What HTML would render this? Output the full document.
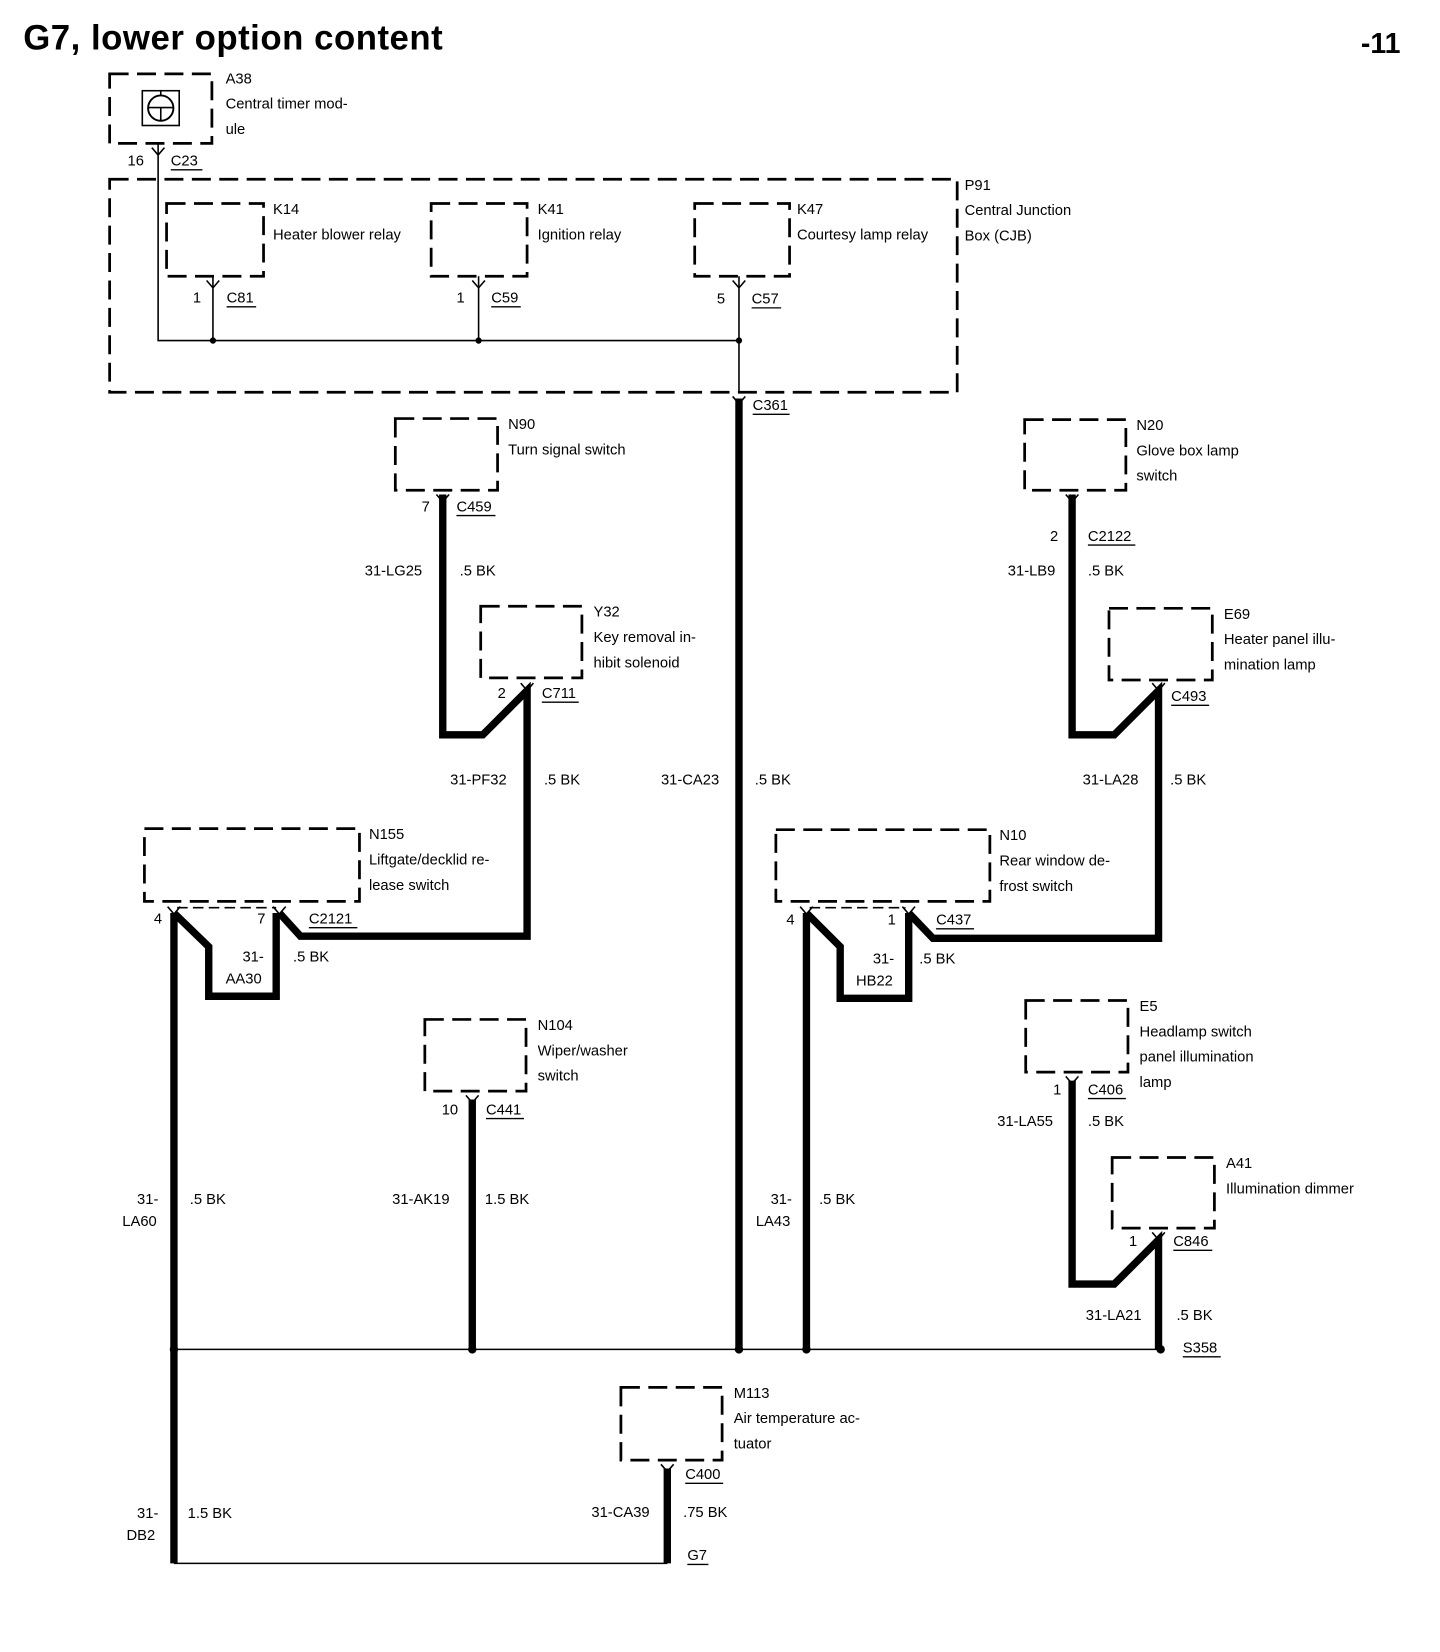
<!DOCTYPE html>
<html><head><meta charset="utf-8"><style>
html,body{margin:0;padding:0;background:#fff}
svg{display:block}
text{font-family:"Liberation Sans",Arial,sans-serif;font-size:14px;fill:#000}
.b{fill:none;stroke:#000;stroke-width:2.6;stroke-dasharray:18 8}
.t{fill:none;stroke:#000;stroke-width:1.5}
.k{fill:none;stroke:#000;stroke-width:7;stroke-linejoin:miter}
.u{stroke:#000;stroke-width:1.3}
</style></head><body>
<svg width="1440" height="1652" viewBox="0 0 1366 1567" xmlns="http://www.w3.org/2000/svg">
<text x="22" y="47" style="font-size:33px;font-weight:bold" textLength="398">G7, lower option content</text>
<text x="1291" y="50" style="font-size:27px;font-weight:bold">-11</text>

<!-- A38 -->
<rect class="b" x="104" y="70" width="97" height="66"/>
<rect x="135" y="86" width="35" height="33" fill="none" stroke="#000" stroke-width="1.5"/>
<circle cx="152.5" cy="102.5" r="12" fill="none" stroke="#000" stroke-width="1.8"/>
<path class="t" d="M141 102 H164 M152.5 102 V114 M152.5 86 V91"/>
<text x="214" y="79">A38</text><text x="214" y="103">Central timer mod-</text><text x="214" y="127">ule</text>
<text x="121" y="157">16</text><text x="162" y="157">C23</text><line class="u" x1="162" y1="161" x2="192" y2="161"/>
<path class="t" d="M150 136 V323 H701"/>

<!-- P91 -->
<rect class="b" x="104" y="170" width="804" height="202"/>
<text x="915" y="180">P91</text><text x="915" y="204">Central Junction</text><text x="915" y="228">Box (CJB)</text>

<rect class="b" x="158" y="193" width="92" height="69"/>
<text x="259" y="203">K14</text><text x="259" y="227">Heater blower relay</text>
<text x="183" y="287">1</text><text x="215" y="287">C81</text><line class="u" x1="215" y1="291" x2="243" y2="291"/>
<path class="t" d="M202 262 V323"/><circle cx="202" cy="323" r="3"/>

<rect class="b" x="409" y="193" width="91" height="69"/>
<text x="510" y="203">K41</text><text x="510" y="227">Ignition relay</text>
<text x="433" y="287">1</text><text x="466" y="287">C59</text><line class="u" x1="466" y1="291" x2="494" y2="291"/>
<path class="t" d="M454 262 V323"/><circle cx="454" cy="323" r="3"/>

<rect class="b" x="659" y="193" width="90" height="69"/>
<text x="756" y="203">K47</text><text x="756" y="227">Courtesy lamp relay</text>
<text x="680" y="288">5</text><text x="713" y="288">C57</text><line class="u" x1="713" y1="292" x2="741" y2="292"/>
<path class="t" d="M701 262 V372"/><circle cx="701" cy="323" r="3"/>
<text x="714" y="389">C361</text><line class="u" x1="714" y1="393" x2="749" y2="393"/>
<path class="k" d="M701 378 V1280"/>

<!-- pin arrows -->
<g class="t">
<path d="M144 140 L150 147 L156 140"/><path d="M196 266 L202 273 L208 266"/><path d="M448 266 L454 273 L460 266"/><path d="M695 266 L701 273 L707 266"/>
<path d="M695 376 L701 383 L707 376"/>
<path d="M414 469 L420 476 L426 469"/><path d="M494 648 L500 655 L506 648"/>
<path d="M1011 469 L1017 476 L1023 469"/><path d="M1093 648 L1099 655 L1105 648"/>
<path d="M159 860 L165 867 L171 860"/><path d="M259 860 L265 867 L271 860"/>
<path d="M759 860 L765 867 L771 860"/><path d="M856 860 L862 867 L868 860"/>
<path d="M442 1039 L448 1046 L454 1039"/><path d="M1011 1021 L1017 1028 L1023 1021"/>
<path d="M1093 1169 L1099 1176 L1105 1169"/><path d="M627 1389 L633 1396 L639 1389"/>
</g>

<!-- N90 -->
<rect class="b" x="375" y="397" width="97" height="68"/>
<text x="482" y="407">N90</text><text x="482" y="431">Turn signal switch</text>
<text x="400" y="485">7</text><text x="433" y="485">C459</text><line class="u" x1="433" y1="489" x2="470" y2="489"/>
<text x="346" y="546">31-LG25</text><text x="436" y="546">.5 BK</text>

<!-- Y32 -->
<rect class="b" x="456" y="575" width="96" height="68"/>
<text x="563" y="585">Y32</text><text x="563" y="609">Key removal in-</text><text x="563" y="633">hibit solenoid</text>
<text x="472" y="662">2</text><text x="514" y="662">C711</text><line class="u" x1="514" y1="666" x2="549" y2="666"/>
<path class="k" d="M420 469 V697 H458 L500 655 V888 H285 L265 866"/>
<text x="427" y="744">31-PF32</text><text x="516" y="744">.5 BK</text>
<text x="627" y="744">31-CA23</text><text x="716" y="744">.5 BK</text>

<!-- N155 -->
<rect class="b" x="137" y="786" width="204" height="69"/>
<text x="350" y="796">N155</text><text x="350" y="820">Liftgate/decklid re-</text><text x="350" y="844">lease switch</text>
<text x="146" y="876">4</text><text x="244" y="876">7</text><text x="293" y="876">C2121</text><line class="u" x1="293" y1="880" x2="339" y2="880"/>
<path class="b" style="stroke-width:1.5;stroke-dasharray:10 5" d="M168 861 H262"/>
<path class="k" d="M165 866 V1483"/>
<path class="k" d="M165 866 L198 898 V945 H262 V866"/>
<text x="230" y="912">31-</text><text x="214" y="933">AA30</text><text x="278" y="912">.5 BK</text>

<!-- N104 -->
<rect class="b" x="403" y="967" width="96" height="68"/>
<text x="510" y="977">N104</text><text x="510" y="1001">Wiper/washer</text><text x="510" y="1025">switch</text>
<text x="419" y="1057">10</text><text x="461" y="1057">C441</text><line class="u" x1="461" y1="1061" x2="497" y2="1061"/>
<path class="k" d="M448 1043 V1280"/>
<text x="130" y="1142">31-</text><text x="116" y="1163">LA60</text><text x="180" y="1142">.5 BK</text>
<text x="372" y="1142">31-AK19</text><text x="460" y="1142">1.5 BK</text>

<!-- N20 -->
<rect class="b" x="972" y="398" width="96" height="67"/>
<text x="1078" y="408">N20</text><text x="1078" y="432">Glove box lamp</text><text x="1078" y="456">switch</text>
<text x="996" y="513">2</text><text x="1032" y="513">C2122</text><line class="u" x1="1032" y1="517" x2="1077" y2="517"/>
<text x="956" y="546">31-LB9</text><text x="1032" y="546">.5 BK</text>

<rect class="b" x="1052" y="577" width="98" height="68"/>
<text x="1161" y="587">E69</text><text x="1161" y="611">Heater panel illu-</text><text x="1161" y="635">mination lamp</text>
<text x="1111" y="665">C493</text><line class="u" x1="1111" y1="669" x2="1147" y2="669"/>
<path class="k" d="M1017 469 V697 H1057 L1099 655 V890 H885 L862 866"/>
<text x="1027" y="744">31-LA28</text><text x="1110" y="744">.5 BK</text>

<!-- N10 -->
<rect class="b" x="736" y="787" width="203" height="68"/>
<text x="948" y="797">N10</text><text x="948" y="821">Rear window de-</text><text x="948" y="845">frost switch</text>
<text x="746" y="877">4</text><text x="842" y="877">1</text><text x="888" y="877">C437</text><line class="u" x1="888" y1="881" x2="924" y2="881"/>
<path class="b" style="stroke-width:1.5;stroke-dasharray:10 5" d="M768 861 H859"/>
<path class="k" d="M765 866 V1280"/>
<path class="k" d="M765 866 L797 898 V947 H862 V866"/>
<text x="828" y="914">31-</text><text x="812" y="935">HB22</text><text x="872" y="914">.5 BK</text>
<text x="731" y="1142">31-</text><text x="717" y="1163">LA43</text><text x="777" y="1142">.5 BK</text>

<!-- E5 -->
<rect class="b" x="973" y="949" width="97" height="68"/>
<text x="1081" y="959">E5</text><text x="1081" y="983">Headlamp switch</text><text x="1081" y="1007">panel illumination</text><text x="1081" y="1031">lamp</text>
<text x="999" y="1038">1</text><text x="1032" y="1038">C406</text><line class="u" x1="1032" y1="1042" x2="1068" y2="1042"/>
<text x="946" y="1068">31-LA55</text><text x="1032" y="1068">.5 BK</text>

<rect class="b" x="1055" y="1098" width="97" height="67"/>
<text x="1163" y="1108">A41</text><text x="1163" y="1132">Illumination dimmer</text>
<text x="1071" y="1182">1</text><text x="1113" y="1182">C846</text><line class="u" x1="1113" y1="1186" x2="1150" y2="1186"/>
<path class="k" d="M1017 1025 V1218 H1057 L1099 1176 V1280"/>
<text x="1030" y="1252">31-LA21</text><text x="1116" y="1252">.5 BK</text>
<text x="1122" y="1283">S358</text><line class="u" x1="1122" y1="1287" x2="1158" y2="1287"/>

<!-- bus -->
<path class="t" d="M165 1280 H1101"/>
<g><circle cx="165" cy="1280" r="4"/><circle cx="448" cy="1280" r="4"/><circle cx="701" cy="1280" r="4"/><circle cx="765" cy="1280" r="4"/><circle cx="1101" cy="1280" r="4"/></g>

<!-- M113 -->
<rect class="b" x="589" y="1316" width="96" height="69"/>
<text x="696" y="1326">M113</text><text x="696" y="1350">Air temperature ac-</text><text x="696" y="1374">tuator</text>
<text x="650" y="1403">C400</text><line class="u" x1="650" y1="1407" x2="686" y2="1407"/>
<path class="k" d="M633 1393 V1483"/>
<path class="t" d="M165 1483 H633"/>
<text x="561" y="1439">31-CA39</text><text x="648" y="1439">.75 BK</text>
<text x="652" y="1480">G7</text><line class="u" x1="652" y1="1484" x2="672" y2="1484"/>
<text x="130" y="1440">31-</text><text x="120" y="1461">DB2</text><text x="178" y="1440">1.5 BK</text>
</svg>
</body></html>
